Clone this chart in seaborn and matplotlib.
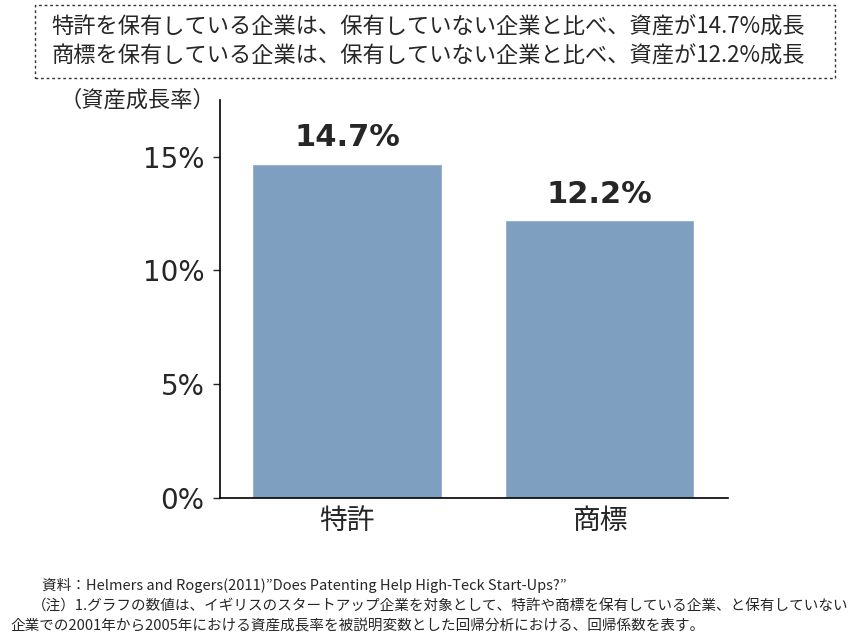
import matplotlib
matplotlib.use("Agg")
import matplotlib.pyplot as plt
import seaborn as sns
import pandas as pd
from matplotlib.patches import Rectangle

categories = ["特許", "商標"]
growth = [14.7, 12.2]
yticks = [0, 5, 10, 15]
ytick_labels = ["0%", "5%", "10%", "15%"]

sns.set_style("white")
plt.rcParams['font.family'] = ['Noto Sans CJK JP', 'DejaVu Sans']

df = pd.DataFrame({"cat": categories, "val": growth})
fig = plt.figure(figsize=(8.48, 6.32), dpi=100)
ax = fig.add_axes([0.259, 0.212, 0.599, 0.630])
sns.barplot(data=df, x="cat", y="val", color="#7f9fc1", saturation=1, width=0.75, ax=ax)
ax.set_xlim(-0.505, 1.507)
ax.set_ylim(0, 17.5)
ax.set_yticks(yticks)
ax.set_yticklabels(ytick_labels, fontsize=20, family=['Verdana', 'DejaVu Sans'])
ax.tick_params(axis='y', length=5, width=1, direction='out', left=True, pad=6)
ax.tick_params(axis='x', length=0, labelsize=20, pad=6)
ax.set_xlabel("")
ax.set_ylabel("")
sns.despine(ax=ax, top=True, right=True)
for s in ["left", "bottom"]:
    ax.spines[s].set_color("black")
    ax.spines[s].set_linewidth(1.2)
for i, v in enumerate(growth):
    ax.text(i, v + 0.5, f"{v}%", ha="center", va="bottom", fontsize=22, fontweight="bold",
            family=['DejaVu Sans'])

fig.text(0.07, 0.842, "（資産成長率）", fontsize=16, va="center")

fig.patches.append(Rectangle((0.041, 0.877), 0.944, 0.115, transform=fig.transFigure,
                             fill=False, edgecolor="#333333", linestyle=(0, (2, 2)), linewidth=1))
fig.text(0.505, 0.957, "特許を保有している企業は、保有していない企業と比べ、資産が14.7%成長",
         ha="center", va="center", fontsize=16)
fig.text(0.505, 0.911, "商標を保有している企業は、保有していない企業と比べ、資産が12.2%成長",
         ha="center", va="center", fontsize=16)

fig.text(0.05, 0.073, "資料：Helmers and Rogers(2011)”Does Patenting Help High-Teck Start-Ups?”",
         fontsize=10.5, va="center")
fig.text(0.038, 0.040, "（注）1.グラフの数値は、イギリスのスタートアップ企業を対象として、特許や商標を保有している企業、と保有していない",
         fontsize=10.5, va="center")
fig.text(0.012, 0.008, "企業での2001年から2005年における資産成長率を被説明変数とした回帰分析における、回帰係数を表す。",
         fontsize=10.5, va="center")

fig.savefig("out.png", dpi=100)
